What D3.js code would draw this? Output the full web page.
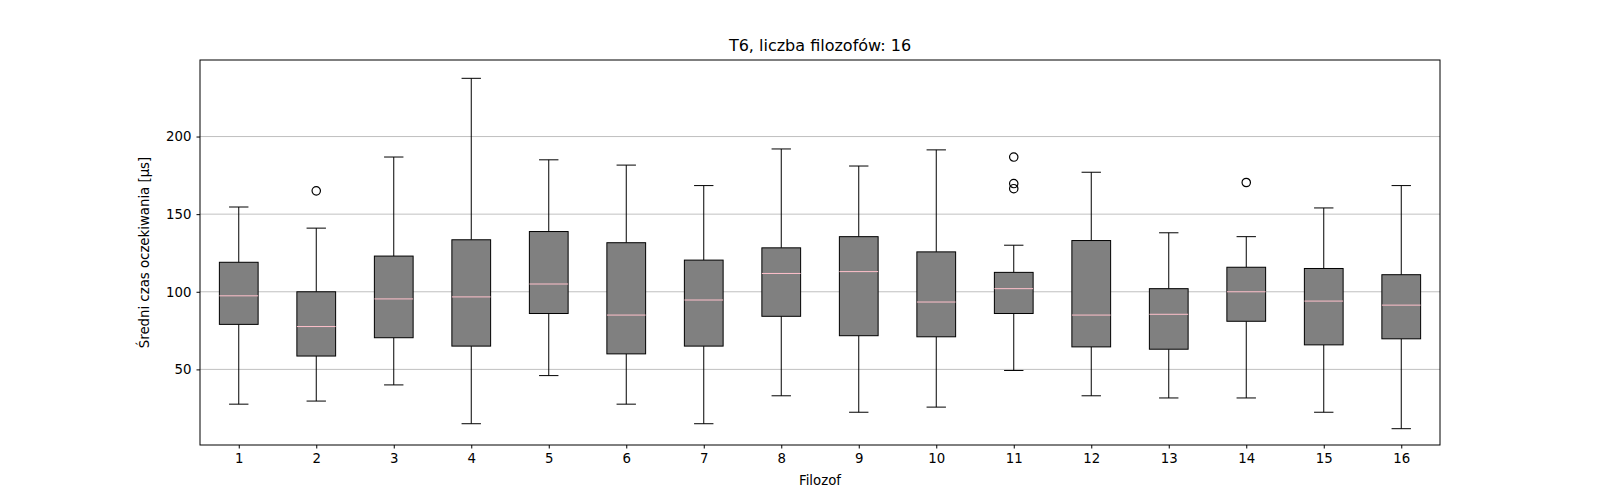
<!DOCTYPE html>
<html><head><meta charset="utf-8">
<script src="https://cdn.jsdelivr.net/npm/d3@7"></script>
<style>body{margin:0;background:#fff}text{font-family:"DejaVu Sans",sans-serif}</style>
</head><body><div id="chart"></div>
<script>
var philosophers = d3.range(1, 17);
var whiskLow  = [27.6, 29.6, 40, 15, 46, 27.6, 15, 33, 22.4, 25.7, 49.3, 33, 31.6, 31.6, 22.4, 11.8];
var q1        = [79, 58.6, 70.4, 65, 86, 60, 65, 84.2, 71.7, 71, 86, 64.5, 63, 81, 65.8, 69.7];
var medians   = [97.4, 77.6, 95.4, 96.7, 105, 85, 94.7, 111.8, 113, 93.4, 102, 85, 85.5, 100, 94, 91.4];
var q3        = [119, 100, 123, 133.5, 138.8, 131.6, 120.4, 128.3, 135.5, 125.7, 112.5, 133, 102, 115.8, 115, 111];
var whiskHigh = [154.6, 141, 186.8, 237.5, 185, 181.6, 168.4, 192, 181, 191.4, 130, 177, 138, 135.5, 154, 168.4];
var outliers  = [[], [165], [], [], [], [], [], [], [], [], [186.8, 169.7, 166.4], [], [], [170.4], [], []];
var yTicks = [50, 100, 150, 200];

var margin = {top: 60, right: 160, bottom: 55, left: 200},
    width = 1600 - margin.left - margin.right,
    height = 500 - margin.top - margin.bottom;

var svg = d3.select("#chart").append("svg")
    .attr("width", 1600).attr("height", 500)
    .append("g")
    .attr("transform", "translate(" + margin.left + "," + margin.top + ")");

var x = d3.scaleLinear().domain([0.5, 16.5]).range([0, width]);
var y = d3.scaleLinear().domain([1.3, 249.3]).range([height, 0]);

// grid
svg.selectAll("line.grid").data(yTicks).enter().append("line")
    .attr("x1", 0).attr("x2", width)
    .attr("y1", function(d) { return y(d); }).attr("y2", function(d) { return y(d); })
    .attr("stroke", "#b0b0b0").attr("stroke-width", 0.8);

var bw = x(0.25) - x(0), cw = x(0.125) - x(0);
var g = svg.selectAll("g.box").data(philosophers).enter().append("g")
    .attr("transform", function(d) { return "translate(" + x(d) + ",0)"; });

g.append("line").attr("y1", function(d, i) { return y(whiskLow[i]); }).attr("y2", function(d, i) { return y(q1[i]); }).attr("stroke", "#000");
g.append("line").attr("y1", function(d, i) { return y(whiskHigh[i]); }).attr("y2", function(d, i) { return y(q3[i]); }).attr("stroke", "#000");
g.append("line").attr("x1", -cw).attr("x2", cw).attr("y1", function(d, i) { return y(whiskLow[i]); }).attr("y2", function(d, i) { return y(whiskLow[i]); }).attr("stroke", "#000");
g.append("line").attr("x1", -cw).attr("x2", cw).attr("y1", function(d, i) { return y(whiskHigh[i]); }).attr("y2", function(d, i) { return y(whiskHigh[i]); }).attr("stroke", "#000");
g.append("rect").attr("x", -bw).attr("width", 2 * bw)
    .attr("y", function(d, i) { return y(q3[i]); })
    .attr("height", function(d, i) { return y(q1[i]) - y(q3[i]); })
    .attr("fill", "#808080").attr("stroke", "#000");
g.append("line").attr("x1", -bw).attr("x2", bw).attr("y1", function(d, i) { return y(medians[i]); }).attr("y2", function(d, i) { return y(medians[i]); }).attr("stroke", "pink");
g.selectAll("circle").data(function(d, i) { return outliers[i]; }).enter().append("circle")
    .attr("r", 4.2).attr("cy", function(v) { return y(v); })
    .attr("fill", "none").attr("stroke", "#000").attr("stroke-width", 1.2);

svg.append("rect").attr("width", width).attr("height", height).attr("fill", "none").attr("stroke", "#000");

var xAxis = svg.append("g").attr("transform", "translate(0," + height + ")")
    .call(d3.axisBottom(x).tickValues(philosophers).tickSize(3.5).tickPadding(5));
var yAxis = svg.append("g").call(d3.axisLeft(y).tickValues(yTicks).tickSize(3.5).tickPadding(5));
[xAxis, yAxis].forEach(function(a) {
    a.select(".domain").remove();
    a.selectAll("text").attr("font-size", 13.3).attr("font-family", "DejaVu Sans").attr("fill", "#000");
});

svg.append("text").attr("x", width / 2).attr("y", -9).attr("text-anchor", "middle")
    .attr("font-size", 16).text("T6, liczba filozofów: 16");
svg.append("text").attr("x", width / 2).attr("y", height + 40).attr("text-anchor", "middle")
    .attr("font-size", 13.3).text("Filozof");
svg.append("text").attr("transform", "rotate(-90)").attr("x", -height / 2).attr("y", -51)
    .attr("text-anchor", "middle").attr("font-size", 13.3).text("Średni czas oczekiwania [µs]");
</script></body></html>
